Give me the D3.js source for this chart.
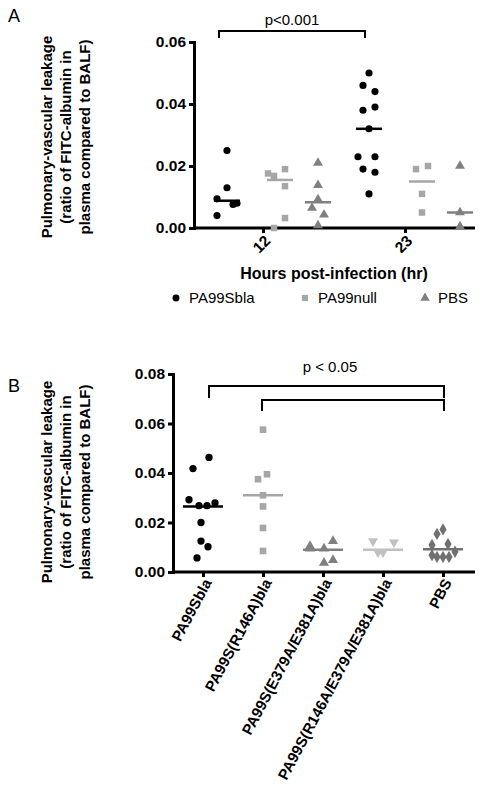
<!DOCTYPE html><html><head><meta charset="utf-8"><script src="https://cdn.jsdelivr.net/npm/d3@7"></script>
<style>body{margin:0;background:#fff}text{font-family:Arial,"Liberation Sans",sans-serif}</style></head><body><svg id="c" width="487" height="800"></svg>
<script>
const hoursA=["12","23"];
const seriesA=["PA99Sbla","PA99null","PBS"];
const colorsA=["#000","#a6a6a6","#808080"];
const groupsA=[
 {h:"12",s:0,v:[0.025,0.013,0.0094,0.0076,0.008,0.004],j:[0,0,-1,0.6,1,-1],m:0.0088},
 {h:"12",s:1,v:[0.0176,0.0168,0.019,0.0135,0.0032,0],j:[-1.2,-0.6,0.5,0.5,0.5,-0.6],m:0.0155},
 {h:"12",s:2,v:[0.021,0.0138,0.0092,0.0065,0.0043,0.0008],j:[0,0,0,-0.6,0.6,0],m:0.0083},
 {h:"23",s:0,v:[0.05,0.046,0.044,0.038,0.039,0.032,0.023,0.023,0.019,0.018,0.011],j:[0,-0.6,0.6,-0.6,0.6,0,-1.1,0.6,-0.6,0.6,0],m:0.032},
 {h:"23",s:1,v:[0.019,0.020,0.011,0.005],j:[-0.6,0.6,0,0],m:0.015},
 {h:"23",s:2,v:[0.020,0.005,0.0005],j:[0,0,0],m:0.005}
];
const yTicksA=[0,0.02,0.04,0.06];
const catsB=["PA99Sbla","PA99S(R146A)bla","PA99S(E379A/E381A)bla","PA99S(R146A/E379A/E381A)bla","PBS"];
const colorsB=["#000","#a6a6a6","#808080","#c0c0c0","#707070"];
const shapesB=[d3.symbolCircle,d3.symbolSquare,d3.symbolTriangle,"down",d3.symbolDiamond];
const valsB=[
 [0.0463,0.0418,0.0292,0.0268,0.0268,0.0279,0.02,0.0125,0.0102,0.0057],
 [0.0575,0.0375,0.0395,0.031,0.0265,0.0178,0.0085],
 [0.0105,0.0095,0.0125,0.0037,0.0048,0.0095],
 [0.0125,0.012,0.008,0.008],
 [0.0172,0.0154,0.0109,0.0113,0.0082,0.0061,0.0061,0.0061,0.0068]
];
const jitB=[
 [0.6,-1,-1.4,-0.4,0.4,1.2,-0.2,-0.2,0.5,-0.6],
 [0,-0.5,0.4,0,0,0,0],
 [-1.3,0.1,1,0.1,1,-1.3],
 [-1,1.1,-0.5,0],
 [0,-0.6,-1.1,0.5,1.2,-0.6,0,0.6,-1.1]
];
const medB=[0.0265,0.031,0.009,0.009,0.0092];
const yTicksB=[0,0.02,0.04,0.06,0.08];

const svg=d3.select("#c");
const sym=(s,size)=>s==="down"?d3.symbol(d3.symbolTriangle,size)():d3.symbol(s,size)();
const styleY=a=>{a.select(".domain").attr("stroke-width",3);a.selectAll("line").attr("stroke-width",3);a.selectAll("text").attr("font-size",15.5).attr("font-weight","bold").attr("font-family","Arial")};
svg.append("text").attr("x",8).attr("y",22).attr("font-size",18).text("A");
const xA=d3.scalePoint().domain(hoursA).range([263,405]);
const yA=d3.scaleLinear().domain([0,0.06]).range([228,42]);
const gA=svg.append("g");
gA.append("g").attr("transform","translate(194,0)").call(d3.axisLeft(yA).tickValues(yTicksA).tickFormat(d3.format(".2f")).tickSize(5)).call(styleY);
const xa=gA.append("g").attr("transform","translate(0,228)").call(d3.axisBottom(xA).tickSize(5));
xa.select(".domain").attr("d","M194,0H475").attr("stroke-width",3);
xa.selectAll("line").attr("stroke-width",3);
xa.selectAll("text").attr("font-size",15.5).attr("font-weight","bold").attr("font-family","Arial").attr("text-anchor","end").attr("y",0).attr("dy","0.35em").attr("transform","translate(4,10) rotate(-45)");
const offA=[-36,17,55];
groupsA.forEach(g=>{
 const cx=xA(g.h)+offA[g.s];
 gA.selectAll(null).data(g.v).join("path").attr("d",sym([d3.symbolCircle,d3.symbolSquare,d3.symbolTriangle][g.s],g.s===0?40:42))
  .attr("transform",(d,i)=>`translate(${cx+g.j[i]*10},${yA(d)})`).attr("fill",colorsA[g.s]);
 gA.append("line").attr("x1",cx-13).attr("x2",cx+13).attr("y1",yA(g.m)).attr("y2",yA(g.m)).attr("stroke",colorsA[g.s]).attr("stroke-width",2.5);
});
gA.append("path").attr("d",`M${xA("12")-44},38V31H${xA("23")-40}V38`).attr("fill","none").attr("stroke","#000").attr("stroke-width",2);
gA.append("text").attr("x",292).attr("y",25).attr("text-anchor","middle").attr("font-size",15).text("p<0.001");
const titleA=["Pulmonary-vascular leakage","(ratio of FITC-albumin in","plasma compared to BALF)"];
const yt=(cy)=>{const t=svg.append("text").attr("transform",`translate(75,${cy}) rotate(-90)`).attr("text-anchor","middle").attr("font-size",15).attr("font-weight","bold");
 titleA.forEach((s,i)=>t.append("tspan").attr("x",0).attr("y",(i-1)*19-4).text(s));};
yt(137);
svg.append("text").attr("x",334).attr("y",279).attr("text-anchor","middle").attr("font-size",16).attr("font-weight","bold").text("Hours post-infection (hr)");
const legX=[176,305,425];
seriesA.forEach((s,i)=>{
 svg.append("path").attr("d",sym([d3.symbolCircle,d3.symbolSquare,d3.symbolTriangle][i],38)).attr("transform",`translate(${legX[i]},298)`).attr("fill",colorsA[i]);
 svg.append("text").attr("x",legX[i]+13).attr("y",303).attr("font-size",15).text(s);
});
svg.append("text").attr("x",8).attr("y",392).attr("font-size",18).text("B");
const xB=d3.scalePoint().domain(catsB).range([203,443]);
const yB=d3.scaleLinear().domain([0,0.08]).range([572,374]);
svg.append("g").attr("transform","translate(173,0)").call(d3.axisLeft(yB).tickValues(yTicksB).tickFormat(d3.format(".2f")).tickSize(5)).call(styleY);
const xb=svg.append("g").attr("transform","translate(0,572)").call(d3.axisBottom(xB).tickSize(5));
xb.select(".domain").attr("d","M173,0H475").attr("stroke-width",3);
xb.selectAll("line").attr("stroke-width",3);
xb.selectAll("text").attr("font-size",15).attr("font-weight","bold").attr("font-family","Arial").attr("text-anchor","end").attr("transform","translate(4,8) rotate(-62)").attr("dy","0.35em").attr("y",0);
catsB.forEach((c,k)=>{
 const cx=xB(c);
 svg.selectAll(null).data(valsB[k]).join("path").attr("d",sym(shapesB[k],k===0?42:44))
  .attr("transform",(d,i)=>`translate(${cx+jitB[k][i]*10},${yB(d)})`+(shapesB[k]==="down"?" rotate(180)":"")).attr("fill",colorsB[k]);
 svg.append("line").attr("x1",cx-20).attr("x2",cx+20).attr("y1",yB(medB[k])).attr("y2",yB(medB[k])).attr("stroke",colorsB[k]).attr("stroke-width",2.5);
});
svg.append("path").attr("d",`M${xB(catsB[0])+6},398V386H${xB(catsB[4])+1}V398`).attr("fill","none").attr("stroke","#000").attr("stroke-width",2);
svg.append("path").attr("d",`M${xB(catsB[1])-1},411V400H${xB(catsB[4])+1}V411`).attr("fill","none").attr("stroke","#000").attr("stroke-width",2);
svg.append("text").attr("x",330).attr("y",372).attr("text-anchor","middle").attr("font-size",15).text("p < 0.05");
yt(482);
</script></body></html>
